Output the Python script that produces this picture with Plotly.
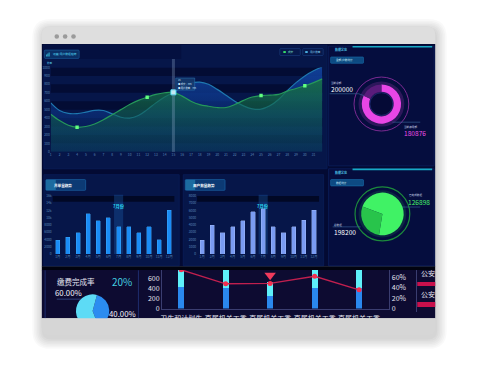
import plotly.graph_objects as go

W, H = 480, 367


def PX(x):
    return x / W


def PY(y):
    return 1 - y / H


# ---------------- data ----------------
day_nums = list(range(1, 33))
day_ticks = list(range(1, 32))
deal_values = [446, 370, 315, 291, 300, 330, 380, 440, 500, 560, 610, 647, 680, 700, 705, 660,
               600, 560, 540, 525, 525, 560, 610, 650, 667, 672, 680, 720, 750, 783, 820, 864]
user_values = [581, 490, 455, 453, 470, 492, 490, 450, 410, 400, 430, 500, 580, 650, 705, 770,
               815, 826, 800, 740, 670, 600, 545, 510, 505, 545, 620, 725, 820, 900, 960, 1008]
marked_days = [4, 12, 25, 30]
focus_day = 15
tooltip_lines = ['15', '● 成交：705', '● 用户数量：705']

month_labels = ['1月', '2月', '3月', '4月', '5月', '6月', '7月', '8月', '9月', '10月', '11月', '12月']
order_values = [3800, 4700, 5900, 11100, 9200, 10000, 7500, 7500, 5900, 7500, 4000, 12000]
user_count_values = [1900, 4000, 2970, 3730, 4580, 5840, 6250, 3730, 2970, 3730, 4630, 6020]
focus_month = '7月'

amount_shares = [82, 18]
amount_total = '200000'
amount_current = '180876'
stat_shares = [72, 28]
stat_total = '198200'
stat_current = '126898'

pay_shares = [40, 60]
pay_rate_text = '20%'
pay_done_text = '60.00%'
pay_left_text = '40.00%'

dept_labels = ['卫生和计划生育委员会', '直属机关工委', '直属机关工委', '直属机关工委', '直属机关工委']
dept_base = [437, 423, 260, 409, 409]
dept_top = [560, 520, 281, 490, 690]
dept_rate = [75.6, 48.4, 49.0, 63.0, 36.5]
pin_dept = 2
pin_rate = 65

rank_labels = ['公安局', '公安厅']
rank_values = [3.2, 2.9]

FONT = 'Noto Sans CJK SC, Noto Sans, sans-serif'

# ---------------- helpers ----------------
shapes = []
annotations = []


def rect(x0, y0, x1, y1, fill, line=None, lw=0, layer='below'):
    shapes.append(dict(type='rect', xref='paper', yref='paper', x0=PX(x0), x1=PX(x1),
                       y0=PY(y1), y1=PY(y0), fillcolor=fill, layer=layer,
                       line=dict(color=line or 'rgba(0,0,0,0)', width=lw)))


def rrect(x0, y0, x1, y1, r, fill, top=True, bottom=True, layer='below', line=None, lw=0):
    rx, ry = r / W, r / H
    X0, X1, Ya, Yb = PX(x0), PX(x1), PY(y0), PY(y1)  # Ya top, Yb bottom
    rt = (rx, ry) if top else (0, 0)
    rb = (rx, ry) if bottom else (0, 0)
    p = (f'M {X0 + rt[0]},{Ya} L {X1 - rt[0]},{Ya} Q {X1},{Ya} {X1},{Ya - rt[1]} '
         f'L {X1},{Yb + rb[1]} Q {X1},{Yb} {X1 - rb[0]},{Yb} L {X0 + rb[0]},{Yb} '
         f'Q {X0},{Yb} {X0},{Yb + rb[1]} L {X0},{Ya - rt[1]} Q {X0},{Ya} {X0 + rt[0]},{Ya} Z')
    shapes.append(dict(type='path', xref='paper', yref='paper', path=p, fillcolor=fill,
                       layer=layer, line=dict(color=line or 'rgba(0,0,0,0)', width=lw)))


def circle(cx, cy, r, fill='rgba(0,0,0,0)', line=None, lw=0, layer='below'):
    shapes.append(dict(type='circle', xref='paper', yref='paper', x0=PX(cx - r), x1=PX(cx + r),
                       y0=PY(cy + r), y1=PY(cy - r), fillcolor=fill, layer=layer,
                       line=dict(color=line or 'rgba(0,0,0,0)', width=lw)))


def seg(x0, y0, x1, y1, color, w=1, layer='below', dash='solid'):
    shapes.append(dict(type='line', xref='paper', yref='paper', x0=PX(x0), x1=PX(x1),
                       y0=PY(y0), y1=PY(y1), layer=layer, line=dict(color=color, width=w, dash=dash)))


def text(x, y, s, size, color, xanchor='left', yanchor='middle', bold=False):
    annotations.append(dict(xref='paper', yref='paper', x=PX(x), y=PY(y), text=f'<b>{s}</b>' if bold else s,
                            showarrow=False, xanchor=xanchor, yanchor=yanchor, borderpad=0,
                            font=dict(size=size, color=color, family=FONT)))


def dom(cx, cy, r):
    return dict(x=[PX(cx - r), PX(cx + r)], y=[PY(cy + r), PY(cy - r)])


# ---------------- card frame ----------------
for i in range(7):
    g = 1 + i * 1.6
    rrect(40 - g + 1, 24 - g + 3, 435 + g + 1, 339 + g + 3, 8 + g, 'rgba(0,0,0,0.022)')
rrect(40, 24, 435, 339, 8, '#d6d6d6')
rrect(40, 24, 435, 42, 8, '#dedede', bottom=False)
for cx in (55, 63.4, 71.8):
    circle(cx, 34.2, 2.3, fill='#9b9b9b')

# dashboard backgrounds
rect(40, 41.7, 435, 268.5, '#030a33')
rect(40, 268.3, 435, 272.5, '#01030f')
rect(40, 272.3, 435, 321.5, '#0d0b31')

# top-left panel
rect(42, 43, 326.5, 169, '#061649', line='#0c2260', lw=0.6)
rect(42, 43, 180, 57, '#041040')
rrect(42.5, 48, 77.5, 56.5, 1, '#0b3066', line='#1b609e', lw=0.6)
for i, hgt in enumerate((2, 3, 4)):
    rect(44.5 + i * 1.2, 54.5 - hgt, 45.3 + i * 1.2, 54.5, '#3fd2ee')
text(50.5, 52.3, '运营/用户数据趋势', 2.8, '#53d8f2')
text(44, 61.5, '数量', 2.6, '#4fb8dd')
rrect(279, 46.5, 299.5, 53.5, 0.8, '#07194c', line='#1c4283', lw=0.6)
rect(282.5, 49, 285, 51, '#37e06a')
text(286.5, 50, '成交', 2.6, '#7fe0c8')
rrect(302, 46.5, 322.5, 53.5, 0.8, '#07194c', line='#1c4283', lw=0.6)
rect(304.5, 49, 307, 51, '#4bb2e4')
text(308.5, 50, '用户数量', 2.6, '#7fc8e8')

# middle row panels
for (x0, x1, title) in ((42, 178, '月单量趋势'), (182, 323, '用户数量趋势')):
    rect(x0, 175, x1, 268, '#061649', line='#0c2260', lw=0.6)
    rrect(x0 + 2, 180, x0 + 42, 191, 1, '#0c3a74', line='#1d6aac', lw=0.6)
    rect(x0 + 2.3, 180.3, x0 + 12, 190.7, 'rgba(60,200,240,0.35)')
    text(x0 + 9, 185.6, title, 3.6, '#ffffff', bold=True)

# right column panels
for (y0, y1, sub) in ((44, 166, '金额/户数统计'), (169, 268, '数据统计')):
    rect(328, y0, 434, y1, '#050d3e', line='#112768', lw=0.6)
    seg(352, y0 + 0.6, 432, y0 + 0.6, '#17a9c4', 1.6)
    text(333, y0 + 3.8, '数据总览', 3.0, '#4fc3e6', bold=True)
    rrect(330, y0 + 11, 363, y0 + 17.5, 0.8, '#0d4a82', line='#1c7ab8', lw=0.5)
    text(334, y0 + 14.3, sub, 2.6, '#d8f4ff')

# donut decorations
circle(381, 103, 27.5, line='#7b2a92', lw=1)
circle(381, 103, 23, fill='rgba(230,70,230,0.18)')
circle(381, 103, 11.5, fill='#050a36', line='#1d2b74', lw=0.8)
seg(329, 92.5, 358, 92.5, '#3a6a9c', 0.6)
seg(358, 92.5, 368, 96, '#3a6a9c', 0.6)
seg(392, 121.5, 420, 121.5, '#3a6a9c', 0.6)
text(329.5, 81.8, '当前总额', 2.6, '#c8d4e8')
text(329, 88, amount_total, 6.6, '#ffffff')
text(403, 126.2, '当前使用额', 2.6, '#c8d4e8')
text(402.5, 132.5, amount_current, 6.6, '#ee4ee8')

# green pie decorations
circle(382, 215, 27.5, line='#1c8a3c', lw=1.2)
circle(382, 215, 24, fill='rgba(60,240,100,0.12)')
seg(332, 228.2, 360, 228.2, '#3a6a9c', 0.6)
seg(393, 208, 420, 208, '#3a6a9c', 0.6)
text(332.5, 226.5, '总数据', 2.6, '#c8d4e8')
text(332, 233.3, stat_total, 6.6, '#ffffff')
text(407.5, 196.2, '已完成数据', 2.6, '#c8d4e8')
text(407, 202.8, stat_current, 6.6, '#46f06a')

# bottom dashboard
seg(43.3, 272.5, 43.3, 321.5, '#1e2d6e', 1)
seg(137, 272.5, 137, 321.5, '#1e2d6e', 1)
text(54.5, 284, '缴费完成率', 7.5, '#e6e6f2')
text(109.5, 284, pay_rate_text, 10, '#43cfe0')
text(52.5, 295, pay_done_text, 7.8, '#f2f2f8')
seg(55, 301.9, 80, 301.9, '#3a4f8a', 0.8)
text(106.5, 316.3, pay_left_text, 7.8, '#f2f2f8')

# clip band at bottom of card (above traces)
rrect(40, 321.3, 435, 339, 8, '#d6d6d6', top=False, layer='above')

# ---------------- traces ----------------
fig = go.Figure()

# area chart
fig.add_trace(go.Scatter(x=day_nums, y=user_values, mode='lines', line=dict(color='#1e78b0', width=1.2, shape='spline'),
                         fill='tozeroy', fillgradient=dict(type='vertical', colorscale=[[0, 'rgba(8,40,110,0.35)'], [1, 'rgba(18,72,170,0.85)']]),
                         xaxis='x', yaxis='y', hoverinfo='skip'))
fig.add_trace(go.Scatter(x=day_nums, y=deal_values, mode='lines', line=dict(color='#25985a', width=1.2, shape='spline'),
                         fill='tozeroy', fillgradient=dict(type='vertical', colorscale=[[0, 'rgba(12,80,90,0.35)'], [1, 'rgba(24,120,60,0.8)']]),
                         xaxis='x', yaxis='y', hoverinfo='skip'))
fig.add_trace(go.Scatter(x=marked_days, y=[deal_values[d - 1] for d in marked_days], mode='markers',
                         marker=dict(symbol='square', size=3.4, color='#62ff80'), xaxis='x', yaxis='y', hoverinfo='skip'))
fig.add_trace(go.Scatter(x=[focus_day], y=[deal_values[focus_day - 1]], mode='markers',
                         marker=dict(symbol='square', size=5, color='#d8ffff', line=dict(color='#4fd8f0', width=1)),
                         xaxis='x', yaxis='y', hoverinfo='skip'))

# month bar charts
fig.add_trace(go.Bar(x=month_labels, y=order_values, width=0.4, marker=dict(color='#1a8cf6', line=dict(color='#45b0ff', width=0.4)),
                     xaxis='x2', yaxis='y2', hoverinfo='skip'))
fig.add_trace(go.Bar(x=month_labels, y=user_count_values, width=0.4, marker=dict(color='#7a9cf2', line=dict(color='#a9c2ff', width=0.4)),
                     xaxis='x3', yaxis='y3', hoverinfo='skip'))

# bottom dept chart
dept_idx = list(range(len(dept_labels)))
fig.add_trace(go.Bar(x=dept_idx, y=dept_base, width=0.134, marker=dict(color='#2a88ee', line=dict(width=0)),
                     xaxis='x4', yaxis='y4', hoverinfo='skip'))
fig.add_trace(go.Bar(x=dept_idx, y=dept_top, width=0.134, marker=dict(color='#5ef0fa', line=dict(width=0)),
                     xaxis='x4', yaxis='y4', hoverinfo='skip'))
fig.add_trace(go.Scatter(x=dept_idx, y=dept_rate, mode='lines+markers', line=dict(color='#c01f4e', width=1.3),
                         marker=dict(size=5, color='#f2304f'), xaxis='x4', yaxis='y5', hoverinfo='skip'))
fig.add_trace(go.Scatter(x=[pin_dept], y=[pin_rate], mode='markers', marker=dict(symbol='triangle-down', size=10, color='#f03a5c'),
                         xaxis='x4', yaxis='y5', hoverinfo='skip'))

# rank bars
rank_idx = list(range(len(rank_labels)))
fig.add_trace(go.Bar(y=rank_idx, x=rank_values, orientation='h', width=0.238, marker=dict(color='#c8104c', line=dict(width=0)),
                     xaxis='x6', yaxis='y6', hoverinfo='skip'))
fig.add_trace(go.Scatter(y=[i - 0.45 for i in rank_idx], x=[0.3] * len(rank_idx), mode='text', text=rank_labels,
                         textposition='middle right', textfont=dict(size=7, color='#e6e6f2', family=FONT),
                         xaxis='x6', yaxis='y6', hoverinfo='skip', cliponaxis=True))

# pies
fig.add_trace(go.Pie(values=amount_shares, marker=dict(colors=['#e846e6', '#5a1c7c']), hole=0.63, sort=False,
                     direction='clockwise', rotation=0, textinfo='none', hoverinfo='skip', domain=dom(381, 103, 20)))
fig.add_trace(go.Pie(values=stat_shares, marker=dict(colors=['#40f265', '#28c44b']), sort=False,
                     direction='clockwise', rotation=290, textinfo='none', hoverinfo='skip', domain=dom(382, 215, 21.7)))
fig.add_trace(go.Pie(values=pay_shares, marker=dict(colors=['#2b8cf0', '#5ddbf6']), sort=False,
                     direction='clockwise', rotation=15, textinfo='none', hoverinfo='skip', domain=dom(91, 314, 17)))

# ---------------- axis shapes ----------------
for k in range(0, 10, 2):
    shapes.append(dict(type='rect', xref='x domain', yref='y', x0=0, x1=1, y0=k * 100 + 100, y1=k * 100 + 200,
                       fillcolor='rgba(1,6,34,0.55)', line=dict(width=0), layer='below'))
shapes.append(dict(type='line', xref='x', yref='paper', x0=focus_day, x1=focus_day, y0=PY(152), y1=PY(57),
                   line=dict(color='rgba(150,175,210,0.3)', width=3), layer='above'))
rect(174.5, 76.5, 193.5, 88.8, 'rgba(22,58,110,0.9)', line='#2f7db8', lw=0.5, layer='above')
for i, ln in enumerate(tooltip_lines):
    text(176, 79 + i * 3.7, ln, 2.3, '#d0e8ff')

fi = month_labels.index(focus_month)
for ax in ('2', '3'):
    shapes.append(dict(type='rect', xref=f'x{ax} domain', yref=f'y{ax} domain', x0=0, x1=1, y0=0.9, y1=1.0,
                       fillcolor='rgba(0,4,26,0.75)', line=dict(width=0), layer='below'))
    shapes.append(dict(type='rect', xref=f'x{ax}', yref=f'y{ax} domain', x0=fi - 0.45, x1=fi + 0.45, y0=0, y1=1.02,
                       fillcolor='rgba(30,95,175,0.35)', line=dict(width=0), layer='below'))
    annotations.append(dict(xref=f'x{ax}', yref=f'y{ax} domain', x=fi, y=0.91, text='<b>7月份</b>', showarrow=False,
                            font=dict(size=4.2, color='#2ad4f0', family=FONT)))

# ---------------- layout ----------------
tick_small = dict(size=3.3, color='#5a86b8', family=FONT)
common = dict(showgrid=False, zeroline=False, fixedrange=True)
tick_big = dict(size=7, color='#e4e4f0', family=FONT)
no_ticks = dict(ticks='')
low_ticks = dict(ticks='outside', ticklen=3, tickcolor='rgba(0,0,0,0)')

fig.update_layout(
    width=W, height=H, margin=dict(l=0, r=0, t=0, b=0),
    paper_bgcolor='#ffffff', plot_bgcolor='rgba(0,0,0,0)',
    showlegend=False, barmode='stack', bargap=0, hovermode=False,
    font=dict(family=FONT),
    xaxis=dict(domain=[PX(49), PX(321.7)], range=[1, 32], tickvals=day_ticks, tickfont=tick_small, anchor='y', **common, **no_ticks),
    yaxis=dict(domain=[PY(151.7), PY(65.7)], range=[0, 1000], tickvals=list(range(0, 1001, 100)), tickfont=tick_small, anchor='x', **common, **no_ticks),
    xaxis2=dict(domain=[PX(50.9), PX(173.1)], type='category', range=[-0.5, 11.5], tickfont=tick_small, anchor='y2', tickangle=0, **common, **no_ticks),
    yaxis2=dict(domain=[PY(256), PY(196.7)], range=[0, 16000], tickvals=list(range(0, 16001, 2000)), tickfont=tick_small, anchor='x2', **common, **no_ticks),
    xaxis3=dict(domain=[PX(195.9), PX(318.4)], type='category', range=[-0.5, 11.5], tickfont=tick_small, anchor='y3', tickangle=0, **common, **no_ticks),
    yaxis3=dict(domain=[PY(256), PY(196.7)], range=[0, 8000], tickvals=list(range(0, 8001, 1000)), tickfont=tick_small, anchor='x3', **common, **no_ticks),
    xaxis4=dict(domain=[PX(160.7), PX(389)], range=[-0.43, 4.68], tickvals=dept_idx, tickangle=0,
                ticktext=[s[:6] + ('<br>' + s[6:] if len(s) > 6 else '') for s in dept_labels],
                tickfont=tick_big, anchor='y4', showline=True, linecolor='#3a3d70', linewidth=1, **common, **low_ticks),
    yaxis4=dict(domain=[PY(311.5), PY(272.3)], range=[0, 777], tickvals=[0, 200, 400, 600], tickfont=tick_big,
                anchor='x4', showline=True, linecolor='#3a3d70', linewidth=1, **common, **no_ticks),
    yaxis5=dict(overlaying='y4', side='right', range=[0, 75], tickvals=[0, 20, 40, 60], ticktext=['0', '20%', '40%', '60%'],
                tickfont=tick_big, anchor='x4', showline=True, linecolor='#3a3d70', linewidth=1, **common, **no_ticks),
    xaxis6=dict(domain=[PX(417), PX(435)], range=[0, 1.45], tickvals=[0, 1], tickfont=tick_big, anchor='y6', tickangle=0, **common, **low_ticks),
    yaxis6=dict(domain=[PY(315), PY(272.3)], range=[1.371, -0.676], showticklabels=False, anchor='x6',
                showline=True, linecolor='#3a3d70', linewidth=1, **common, **no_ticks),
    shapes=shapes, annotations=annotations,
)

fig.write_html('out.html', config={'displayModeBar': False, 'staticPlot': True},
               post_script="document.body.style.margin='0';document.documentElement.style.overflow='hidden';")
